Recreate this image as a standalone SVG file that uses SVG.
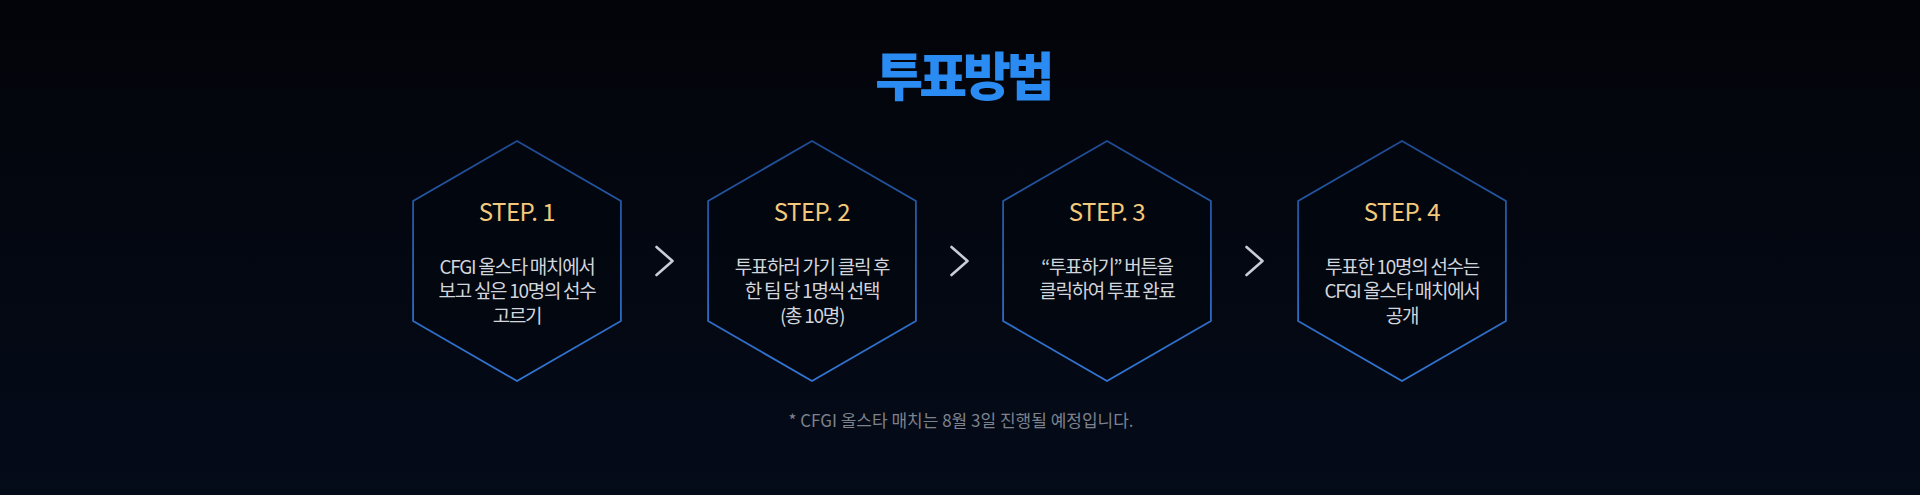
<svg xmlns="http://www.w3.org/2000/svg" width="1920" height="495" viewBox="0 0 1920 495">
<defs>
<linearGradient id="bg" x1="0" y1="0" x2="0" y2="1">
<stop offset="0" stop-color="#030409"/>
<stop offset="1" stop-color="#040b19"/>
</linearGradient>
<linearGradient id="hexStroke" x1="0" y1="0" x2="0" y2="1">
<stop offset="0" stop-color="#1f4b93"/>
<stop offset="1" stop-color="#3276d4"/>
</linearGradient>
<path id="hex" d="M0,-120 L103.9,-60 L103.9,60 L0,120 L-103.9,60 L-103.9,-60 Z"/>
</defs>
<style>
.hex{fill:#02060f;fill-opacity:0.6;stroke:url(#hexStroke);stroke-width:1.8}
.step{font-family:"Noto Sans CJK KR","Noto Sans",sans-serif;font-size:24px;fill:#f3c97c;text-anchor:middle;letter-spacing:-0.5px}
.body{font-family:"Noto Sans CJK KR","Noto Sans",sans-serif;font-size:19px;fill:#d2d5dc;text-anchor:middle;letter-spacing:-1.3px}
.title{font-family:"Noto Sans CJK KR",sans-serif;font-weight:900;font-size:52px;fill:#2a8cf2;text-anchor:middle;letter-spacing:-4px}
.note{font-family:"Noto Sans CJK KR","Noto Sans",sans-serif;font-size:17px;fill:#7d828d;text-anchor:middle}
.chev{fill:none;stroke:#c9cdd5;stroke-width:2.6;stroke-linecap:round;stroke-linejoin:round}
</style>
<rect width="1920" height="495" fill="url(#bg)"/>
<g id="title"><text class="title" x="963" y="96">투표방법</text></g>
<g id="step1">
<use href="#hex" class="hex" x="517" y="261"/>
<text class="step" x="517" y="221">STEP. 1</text>
<text class="body" x="517" y="273.5">CFGI 올스타 매치에서</text>
<text class="body" x="517" y="298">보고 싶은 10명의 선수</text>
<text class="body" x="517" y="322.5">고르기</text>
</g>
<g id="step2">
<use href="#hex" class="hex" x="812" y="261"/>
<text class="step" x="812" y="221">STEP. 2</text>
<text class="body" x="812" y="273.5">투표하러 가기 클릭 후</text>
<text class="body" x="812" y="298">한 팀 당 1명씩 선택</text>
<text class="body" x="812" y="322.5">(총 10명)</text>
</g>
<g id="step3">
<use href="#hex" class="hex" x="1107" y="261"/>
<text class="step" x="1107" y="221">STEP. 3</text>
<text class="body" x="1107" y="273.5">“투표하기” 버튼을</text>
<text class="body" x="1107" y="298">클릭하여 투표 완료</text>
</g>
<g id="step4">
<use href="#hex" class="hex" x="1402" y="261"/>
<text class="step" x="1402" y="221">STEP. 4</text>
<text class="body" x="1402" y="273.5">투표한 10명의 선수는</text>
<text class="body" x="1402" y="298">CFGI 올스타 매치에서</text>
<text class="body" x="1402" y="322.5">공개</text>
</g>
<g id="connectors">
<path class="chev" d="M656.5,247 L672.5,261 L656.5,275"/>
<path class="chev" d="M951.5,247 L967.5,261 L951.5,275"/>
<path class="chev" d="M1246.5,247 L1262.5,261 L1246.5,275"/>
</g>
<g id="footnote"><text class="note" x="961" y="426.5">* CFGI 올스타 매치는 8월 3일 진행될 예정입니다.</text></g>
</svg>
